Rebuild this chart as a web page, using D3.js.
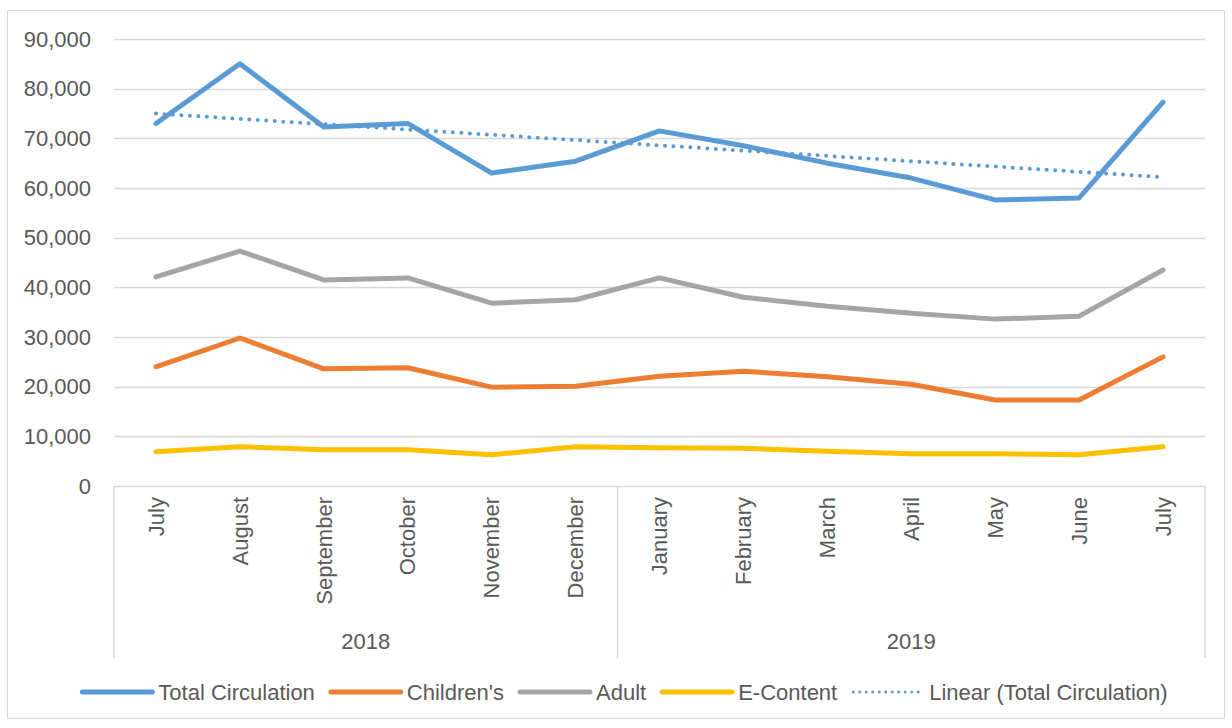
<!DOCTYPE html>
<html>
<head>
<meta charset="utf-8">
<script src="https://cdn.jsdelivr.net/npm/d3@7"></script>
<style>
  body { margin: 0; background: #fff; }
  text { font-family: "Liberation Sans", Arial, sans-serif; fill: #595959; }
</style>
</head>
<body>
<div id="chart"></div>
<script>
(function(){
    // data
    var months = ['July','August','September','October','November','December',
                  'January','February','March','April','May','June','July'];
    var years = [{label: '2018', from: 0, to: 6}, {label: '2019', from: 6, to: 13}];
    var totalCirc = [73000, 85000, 72300, 73000, 63000, 65400, 71500, 68500, 65000, 62000, 57600, 58000, 77300];
    var childrens = [24000, 29800, 23600, 23800, 19900, 20100, 22100, 23100, 22000, 20500, 17300, 17300, 26000];
    var adult     = [42100, 47300, 41500, 41900, 36800, 37500, 41900, 38000, 36200, 34800, 33600, 34200, 43500];
    var eContent  = [6900, 7900, 7300, 7300, 6300, 7900, 7700, 7600, 7000, 6500, 6500, 6300, 7900];
    var yTicks = [0, 10000, 20000, 30000, 40000, 50000, 60000, 70000, 80000, 90000];

    var W = 1232, H = 728;
    var margin = {top: 39, right: 27, bottom: 242, left: 114};
    var width = W - margin.left - margin.right;
    var height = H - margin.top - margin.bottom;
    var fs = '22px';

    var svg = d3.select('#chart').append('svg')
        .attr('width', W)
        .attr('height', H);

    // outer frame
    svg.append('rect')
        .attr('x', 7.5).attr('y', 10.5)
        .attr('width', 1217).attr('height', 708)
        .attr('fill', '#fff').attr('stroke', '#d9d9d9');

    var g = svg.append('g').attr('transform', 'translate(' + margin.left + ',' + margin.top + ')');

    var x = d3.scaleBand().domain(d3.range(months.length)).range([0, width]);
    var y = d3.scaleLinear().domain([0, 90000]).range([height, 0]);
    var cx = function(i){ return x(i) + x.bandwidth() / 2; };

    // gridlines
    g.selectAll('line.grid').data(yTicks.slice(1)).enter().append('line')
        .attr('class', 'grid')
        .attr('x1', 0).attr('x2', width)
        .attr('y1', function(d){ return Math.round(y(d)) + 0.5; })
        .attr('y2', function(d){ return Math.round(y(d)) + 0.5; })
        .attr('stroke', '#d9d9d9').attr('stroke-width', 1.5);

    // y axis labels
    var yAxis = d3.axisLeft(y).tickValues(yTicks).tickSize(0).tickPadding(23)
        .tickFormat(d3.format(','));
    g.append('g').call(yAxis)
        .call(function(s){ s.select('.domain').remove(); })
        .selectAll('text')
        .style('font-size', fs).attr('fill', '#595959')
        .style('font-family', '"Liberation Sans", Arial, sans-serif');

    // category axis: baseline and group separators
    var catBottom = 172;
    g.append('line')
        .attr('x1', 0).attr('x2', width)
        .attr('y1', height + 0.5).attr('y2', height + 0.5)
        .attr('stroke', '#d9d9d9').attr('stroke-width', 1.5);
    var seps = [0, 6, 13];
    g.selectAll('line.sep').data(seps).enter().append('line')
        .attr('class', 'sep')
        .attr('x1', function(d){ return d < months.length ? x(d) : width; })
        .attr('x2', function(d){ return d < months.length ? x(d) : width; })
        .attr('y1', height).attr('y2', height + catBottom)
        .attr('stroke', '#d9d9d9').attr('stroke-width', 1.5);

    // month labels (rotated)
    g.selectAll('text.month').data(months).enter().append('text')
        .attr('class', 'month')
        .attr('transform', function(d, i){ return 'translate(' + cx(i) + ',' + (height + 11) + ') rotate(-90)'; })
        .attr('text-anchor', 'end')
        .attr('dy', '0.35em')
        .style('font-size', fs)
        .text(function(d){ return d; });

    // year labels
    g.selectAll('text.year').data(years).enter().append('text')
        .attr('class', 'year')
        .attr('x', function(d){ return (x(d.from) + (d.to < months.length ? x(d.to) : width)) / 2; })
        .attr('y', height + 163)
        .attr('text-anchor', 'middle')
        .style('font-size', fs)
        .text(function(d){ return d.label; });

    // series
    var series = [
        {name: 'Total Circulation', values: totalCirc, color: '#5b9bd5'},
        {name: "Children's", values: childrens, color: '#ed7d31'},
        {name: 'Adult', values: adult, color: '#a5a5a5'},
        {name: 'E-Content', values: eContent, color: '#ffc000'}
    ];

    var line = d3.line()
        .x(function(d, i){ return cx(i); })
        .y(function(d){ return y(d); });

    // draw in reverse so total sits on top
    g.selectAll('path.series').data(series.slice().reverse()).enter().append('path')
        .attr('class', 'series')
        .attr('d', function(d){ return line(d.values); })
        .attr('fill', 'none')
        .attr('stroke', function(d){ return d.color; })
        .attr('stroke-width', 5)
        .attr('stroke-linejoin', 'round')
        .attr('stroke-linecap', 'round');

    // linear trendline of total circulation (least squares)
    var n = totalCirc.length;
    var xs = d3.range(1, n + 1);
    var mx = d3.mean(xs), my = d3.mean(totalCirc);
    var sxy = d3.sum(xs, function(v, i){ return (v - mx) * (totalCirc[i] - my); });
    var sxx = d3.sum(xs, function(v){ return (v - mx) * (v - mx); });
    var slope = sxy / sxx, icpt = my - slope * mx;
    var trend = [icpt + slope * 1, icpt + slope * n];
    g.append('path')
        .attr('d', d3.line()
            .x(function(d, i){ return i === 0 ? cx(0) : cx(n - 1); })
            .y(function(d){ return y(d); })(trend))
        .attr('fill', 'none')
        .attr('stroke', '#5b9bd5')
        .attr('stroke-width', 4)
        .attr('stroke-dasharray', '0 8.5')
        .attr('stroke-linecap', 'round');

    // legend
    var legendItems = series.map(function(s){ return {name: s.name, color: s.color, dotted: false}; });
    legendItems.push({name: 'Linear (Total Circulation)', color: '#5b9bd5', dotted: true});

    var legend = svg.append('g');
    var lx = 0;
    legendItems.forEach(function(d){
        var item = legend.append('g').attr('transform', 'translate(' + lx + ',0)');
        item.append('line')
            .attr('x1', 0).attr('x2', d.dotted ? 66 : 70)
            .attr('y1', 0).attr('y2', 0)
            .attr('stroke', d.color)
            .attr('stroke-width', d.dotted ? 3 : 5)
            .attr('stroke-linecap', 'round')
            .attr('stroke-dasharray', d.dotted ? '0 6.5' : null);
        var t = item.append('text')
            .attr('x', 76)
            .attr('dy', '0.35em')
            .style('font-size', fs)
            .text(d.name);
        lx += 76 + t.node().getComputedTextLength() + 16;
    });
    lx -= 16;
    legend.attr('transform', 'translate(' + (625 - lx / 2) + ',692)');
})();
</script>
</body>
</html>
